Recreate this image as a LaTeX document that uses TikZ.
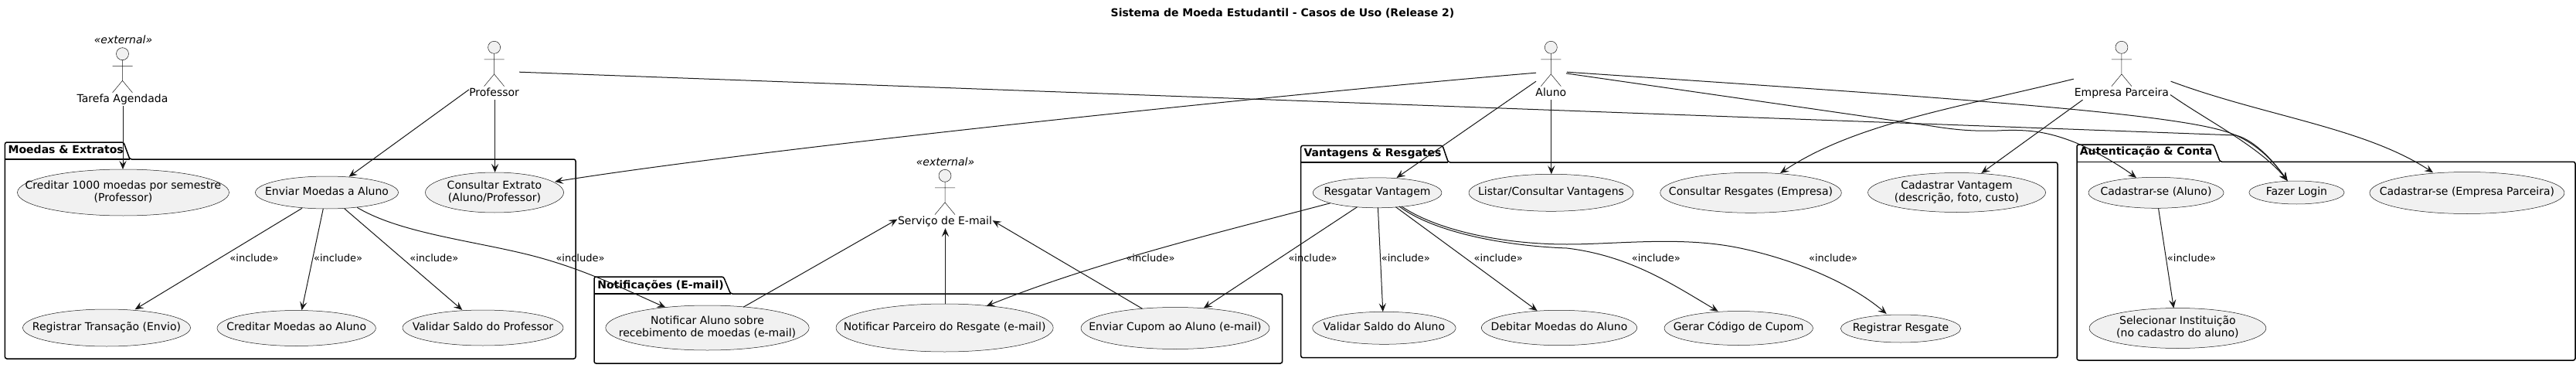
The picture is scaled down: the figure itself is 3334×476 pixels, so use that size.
\documentclass[tikz,border=0pt]{standalone}
\usepackage{fontspec}
\setmainfont{DejaVu Sans}
\usetikzlibrary{shapes.geometric,arrows.meta}
\definecolor{ink}{HTML}{181818}
\definecolor{usefill}{HTML}{F1F1F1}
\newcommand\uctext[1]{\makebox[0pt][c]{\begin{tabular}{@{}c@{}}#1\end{tabular}}}
\newcommand\pkgshape[7]{% left,top,tabright,tabright2,line,right,bottom
  \draw[pkg] (#1,#2) -- (#3,#2) -- (#4,#5) -- (#6,#5) -- (#6,#7) -- (#1,#7) -- cycle;
  \draw[pkgline] (#1,#5) -- (#4,#5);
}
\newcommand\umlactor[4]{% name,cx,top,label
  \begin{scope}[shift={(#2,#3)}]
    \draw[actorline,fill=usefill] (0,8) circle[radius=4pt];
    \draw[actorline] (0,16) -- (0,42.6) (-13,23.6) -- (13,23.6) (-13,58.3) -- (0,42.6) -- (13,58.3);
    \node[txt] (#1) at (0,67.6) {#4};
  \end{scope}
}
\tikzset{
  txt/.style={font=\fontsize{7}{8}\selectfont,text=black,inner sep=0pt,outer sep=0pt,text height=5.1pt,text depth=1.6pt},
  inc/.style={txt,font=\fontsize{6.5}{8}\selectfont},
  uc/.style={ellipse,draw=ink,line width=.25pt,fill=usefill,inner sep=0pt,outer sep=0pt,font=\fontsize{7}{8}\selectfont},
  pkg/.style={draw=black,line width=.75pt,rounded corners=1.25pt,fill=white},
  pkgline/.style={draw=black,line width=.75pt},
  pkgtitle/.style={txt,font=\fontsize{7}{8}\selectfont\bfseries,anchor=west},
  actorline/.style={draw=ink,line width=.25pt},
  conn/.style={draw=ink,line width=.5pt,-{Stealth[length=5.5pt,width=4.6pt,inset=2.2pt]}},
}
\begin{document}
\begin{tikzpicture}[x=.5pt,y=-.5pt]
\useasboundingbox (0,0) rectangle (3334,476);
\fill[white] (0,0) rectangle (3334,476);
\node[txt,font=\fontsize{7}{8}\selectfont\bfseries] (title) at (1660,18) {Sistema de Moeda Estudantil - Casos de Uso (Release 2)};

% packages
\pkgshape{6.4}{184}{160}{168}{206}{745}{464}
\node[pkgtitle] (pmoe) at (10.7,195.3) {Moedas \& Extratos};
\pkgshape{769}{358}{936.4}{945.5}{380}{1659.6}{470}
\node[pkgtitle] (pnot) at (773.4,370) {Notificações (E-mail)};
\pkgshape{1683.7}{188.3}{1867}{1874.4}{210}{2663}{462.7}
\node[pkgtitle] (pvan) at (1687.5,199.3) {Vantagens \& Resgates};
\pkgshape{2688}{187}{2864.8}{2873.3}{209.3}{3333}{466}
\node[pkgtitle] (paut) at (2691.8,197.3) {Autenticação \& Conta};

% actors
\umlactor{tare}{158.5}{61.7}{Tarefa Agendada}
\node[txt,font=\fontsize{7}{8}\selectfont\itshape] (stare) at (159.5,53.3) {«external»};
\umlactor{prof}{639.6}{53.3}{Professor}
\umlactor{alun}{2007.3}{53.3}{Aluno}
\umlactor{empr}{2745.9}{53.3}{Empresa Parceira}
\umlactor{mail}{1223}{219.3}{Serviço de E-mail}
\node[txt,font=\fontsize{7}{8}\selectfont\itshape] (smail) at (1223.5,211) {«external»};

% use cases
\node[uc,minimum width=137pt,minimum height=30pt] (cred) at (159.5,249) {\uctext{Creditar 1000 moedas por semestre\\(Professor)}};
\node[uc,minimum width=92.5pt,minimum height=21pt] (envi) at (423,249) {\uctext{Enviar Moedas a Aluno}};
\node[uc,minimum width=89.5pt,minimum height=26pt] (extr) at (640,249) {\uctext{Consultar Extrato\\(Aluno/Professor)}};
\node[uc,minimum width=108.5pt,minimum height=24pt] (regt) at (138,424) {\uctext{Registrar Transação (Envio)}};
\node[uc,minimum width=102.7pt,minimum height=23pt] (crma) at (383.7,424.5) {\uctext{Creditar Moedas ao Aluno}};
\node[uc,minimum width=104pt,minimum height=23pt] (vsp) at (625,424) {\uctext{Validar Saldo do Professor}};
\node[uc,minimum width=131.7pt,minimum height=29pt] (nalu) at (915.5,424) {\uctext{Notificar Aluno sobre\\recebimento de moedas (e-mail)}};
\node[uc,minimum width=140.6pt,minimum height=31pt] (npar) at (1222.6,424) {\uctext{Notificar Parceiro do Resgate (e-mail)}};
\node[uc,minimum width=122pt,minimum height=27pt] (ecup) at (1521,424.5) {\uctext{Enviar Cupom ao Aluno (e-mail)}};
\node[uc,minimum width=83.3pt,minimum height=19.5pt] (resg) at (1782.6,249.3) {\uctext{Resgatar Vantagem}};
\node[uc,minimum width=106.5pt,minimum height=24pt] (list) at (2007.5,249.3) {\uctext{Listar/Consultar Vantagens}};
\node[uc,minimum width=117.3pt,minimum height=26pt] (cres) at (2266,249.3) {\uctext{Consultar Resgates (Empresa)}};
\node[uc,minimum width=115pt,minimum height=25.5pt] (cvan) at (2532.5,249) {\uctext{Cadastrar Vantagem\\(descrição, foto, custo)}};
\node[uc,minimum width=92.7pt,minimum height=21pt] (vsa) at (1791.4,424.3) {\uctext{Validar Saldo do Aluno}};
\node[uc,minimum width=100.7pt,minimum height=22.7pt] (debi) at (2018,424) {\uctext{Debitar Moedas do Aluno}};
\node[uc,minimum width=96.2pt,minimum height=22pt] (gera) at (2250.2,424.5) {\uctext{Gerar Código de Cupom}};
\node[uc,minimum width=77.7pt,minimum height=18pt] (rres) at (2460,425) {\uctext{Registrar Resgate}};
\node[uc,minimum width=87.5pt,minimum height=20pt] (calu) at (2790.5,249.3) {\uctext{Cadastrar-se (Aluno)}};
\node[uc,minimum width=61.6pt,minimum height=15pt] (logi) at (2972.4,249) {\uctext{Fazer Login}};
\node[uc,minimum width=126pt,minimum height=27pt] (cemp) at (3192.9,249.5) {\uctext{Cadastrar-se (Empresa Parceira)}};
\node[uc,minimum width=114.4pt,minimum height=26pt] (sele) at (2818.4,424.5) {\uctext{Selecionar Instituição\\(no cadastro do aluno)}};

% connectors
\draw[conn] ([shift={(.5,7.4)}]tare.center) -- ([shift={(-.5,-30)}]cred.center);
\draw[conn] ([shift={(-32.6,-5)}]prof.center) -- ([shift={(28.5,-20.3)}]envi.center);
\draw[conn] ([shift={(1,8)}]prof.center) -- ([shift={(.6,-26)}]extr.center);
\draw[conn] ([shift={(32.4,-27.7)}]prof.center) -- (2894,175) .. controls (2920,182) and (2945,212) .. ([shift={(-11.8,-15)}]logi.center);
\draw[conn] ([shift={(-19.3,-26.7)}]alun.center) .. controls (1700,118) and (1000,190) .. ([shift={(78,-14)}]extr.center);
\draw[conn] ([shift={(-19.3,-15.7)}]alun.center) -- ([shift={(24.9,-19.3)}]resg.center);
\draw[conn] ([shift={(.5,8)}]alun.center) -- ([shift={(.3,-24)}]list.center);
\draw[conn] ([shift={(19.7,-26)}]alun.center) -- (2500,163) .. controls (2530,168) and (2555,170) .. (2585,169) .. controls (2625,167) and (2650,170) .. (2687.5,185) .. controls (2715,197) and (2745,215) .. ([shift={(-25.5,-19.3)}]calu.center);
\draw[conn] ([shift={(20.7,-27.7)}]alun.center) .. controls (2500,125) and (2800,145) .. (2880,170) .. controls (2920,182) and (2945,212) .. ([shift={(-11.8,-15)}]logi.center);
\draw[conn] ([shift={(-62.2,-18.7)}]empr.center) .. controls (2530,140) and (2400,160) .. ([shift={(38,-25.3)}]cres.center);
\draw[conn] ([shift={(-50.4,8.3)}]empr.center) -- ([shift={(31.8,-25)}]cvan.center);
\draw[conn] ([shift={(63.1,1.7)}]empr.center) .. controls (2855,155) and (2925,190) .. ([shift={(-11.8,-15)}]logi.center);
\draw[conn] ([shift={(63.7,-15.7)}]empr.center) .. controls (2930,150) and (3060,165) .. ([shift={(-43.9,-26.2)}]cemp.center);
\draw[conn] ([shift={(-32,20.3)}]envi.center) -- ([shift={(36.6,-23.7)}]regt.center);
\draw[conn] ([shift={(-4.7,21)}]envi.center) -- ([shift={(6.8,-23.2)}]crma.center);
\draw[conn] ([shift={(22.6,20.7)}]envi.center) -- ([shift={(-26.7,-23)}]vsp.center);
\draw[conn] ([shift={(39.2,19.3)}]envi.center) .. controls (520,303) and (620,312) .. (696.3,332.7) .. controls (760,350) and (810,375) .. ([shift={(-54.1,-26.3)}]nalu.center);
\draw[conn] ([shift={(46.5,-26.7)}]nalu.center) -- ([shift={(-61.6,-3.3)}]mail.center);
\draw[conn] ([shift={(.9,-30.7)}]npar.center) -- ([shift={(.5,8.3)}]mail.center);
\draw[conn] ([shift={(-42.5,-25.2)}]ecup.center) -- ([shift={(61.6,-1.7)}]mail.center);
\draw[conn] ([shift={(-60.8,13.4)}]resg.center) .. controls (1600,295) and (1420,338) .. ([shift={(53.9,-28)}]npar.center);
\draw[conn] ([shift={(-26,18.4)}]resg.center) -- ([shift={(36.7,-25.8)}]ecup.center);
\draw[conn] ([shift={(.8,19)}]resg.center) -- ([shift={(-1.6,-21)}]vsa.center);
\draw[conn] ([shift={(23.8,18.4)}]resg.center) -- ([shift={(-28.4,-22)}]debi.center);
\draw[conn] ([shift={(28.4,17.7)}]resg.center) .. controls (1855,300) and (1945,318) .. (2028,321) .. controls (2110,331) and (2165,368) .. ([shift={(-26.5,-21.8)}]gera.center);
\draw[conn] ([shift={(31.4,17.7)}]resg.center) .. controls (1860,298) and (1945,316) .. (2028,316) .. controls (2090,316) and (2170,306) .. (2242,319) .. controls (2300,329.5) and (2385,358) .. ([shift={(-18.3,-19)}]rres.center);
\draw[conn] ([shift={(3,20)}]calu.center) -- ([shift={(-5.1,-25.8)}]sele.center);

% include labels
\node[inc] (i1) at (329,335) {«include»};
\node[inc] (i2) at (437.6,335) {«include»};
\node[inc] (i3) at (561.9,335) {«include»};
\node[inc] (i4) at (751,335) {«include»};
\node[inc] (i5) at (1489,335) {«include»};
\node[inc] (i6) at (1699,335) {«include»};
\node[inc] (i7) at (1819.3,335) {«include»};
\node[inc] (i8) at (1939.2,335) {«include»};
\node[inc] (i9) at (2143.3,335) {«include»};
\node[inc] (i10) at (2372.6,335) {«include»};
\node[inc] (i11) at (2836.4,335) {«include»};
\end{tikzpicture}
\end{document}
